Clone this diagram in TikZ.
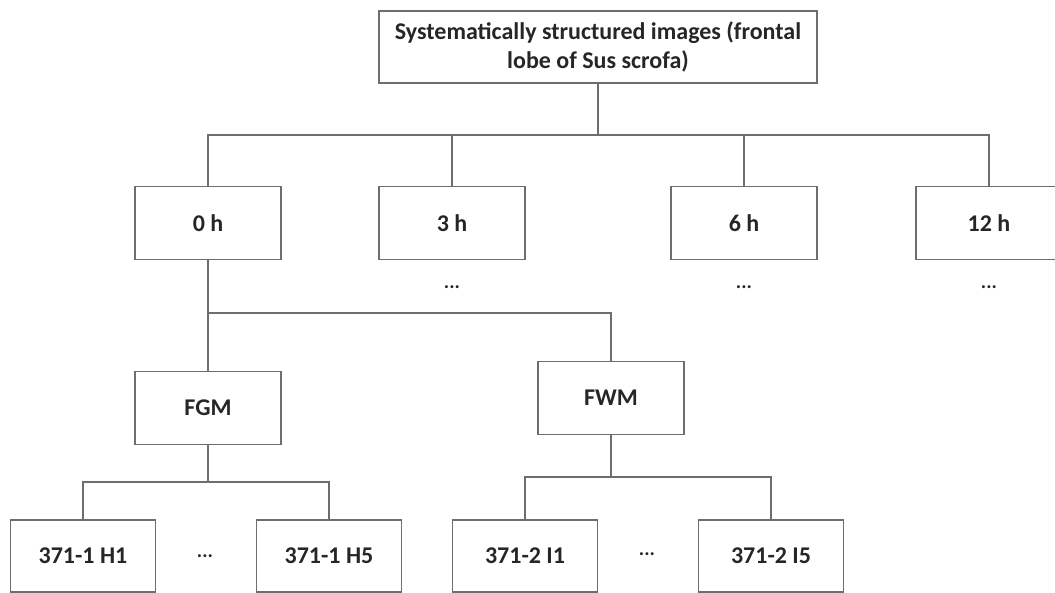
\documentclass[tikz,border=0pt]{standalone}
\usepackage{fontspec}
\setmainfont{Carlito}
\usetikzlibrary{calc}
\definecolor{frame}{RGB}{110,110,110}
\tikzset{box/.style={draw=frame, line width=1.3pt, minimum width=146pt, minimum height=73pt, inner sep=0pt, text=black!85, font=\bfseries\fontsize{24}{29}\selectfont}}
\tikzset{link/.style={draw=frame, line width=1.3pt}}
\tikzset{more/.style={text=black!85, font=\bfseries\fontsize{20}{22}\selectfont}}

\begin{document}
\begin{tikzpicture}[x=1pt,y=-1pt]
\useasboundingbox (0,0) rectangle (1055,592);
\clip (0,0) rectangle (1055,592);
\node[box, minimum width=438pt, minimum height=72pt, align=center] (top) at (598,47) {Systematically structured images (frontal\\lobe of Sus scrofa)};
% time points
\foreach \x/\t/\n in {208/0 h/h0, 452/3 h/h3, 744/6 h/h6, 989/12 h/h12} {
 \node[box] (\n) at (\x,223) {\t};
}
\foreach \n in {h3,h6,h12} {
 \node[more] (d\n) at ($(\n.south)+(0,27)$) {...};
}
\coordinate (bus) at (598,135);
\draw[link] (top.south) -- (bus);
\draw[link] (h0.north) |- (bus) -| (h12.north);
\foreach \n in {h3,h6} {
 \draw[link] (bus -| \n.north) -- (\n.north);
}
% tissue
\node[box] (fgm) at (208,408) {FGM};
\node[box] (fwm) at (611,398) {FWM};
\coordinate (fork) at (208,313);
\draw[link] (h0.south) -- (fgm.north);
\draw[link] (fork) -| (fwm.north);
% samples
\foreach \x/\t/\n in {83/371-1 H1/ha, 329/371-1 H5/hb, 525/371-2 I1/ia, 771/371-2 I5/ib} {
 \node[box, minimum width=145pt, minimum height=72pt] (\n) at (\x,556) {\t};
}
\node[more] (dh) at (205,556) {...};
\node[more] (di) at (647,554) {...};
\coordinate (gm) at (208,482);
\coordinate (wm) at (611,477);
\draw[link] (fgm.south) -- (gm);
\draw[link] (ha.north) |- (gm) -| (hb.north);
\draw[link] (fwm.south) -- (wm);
\draw[link] (ia.north) |- (wm) -| (ib.north);
\end{tikzpicture}
\end{document}
